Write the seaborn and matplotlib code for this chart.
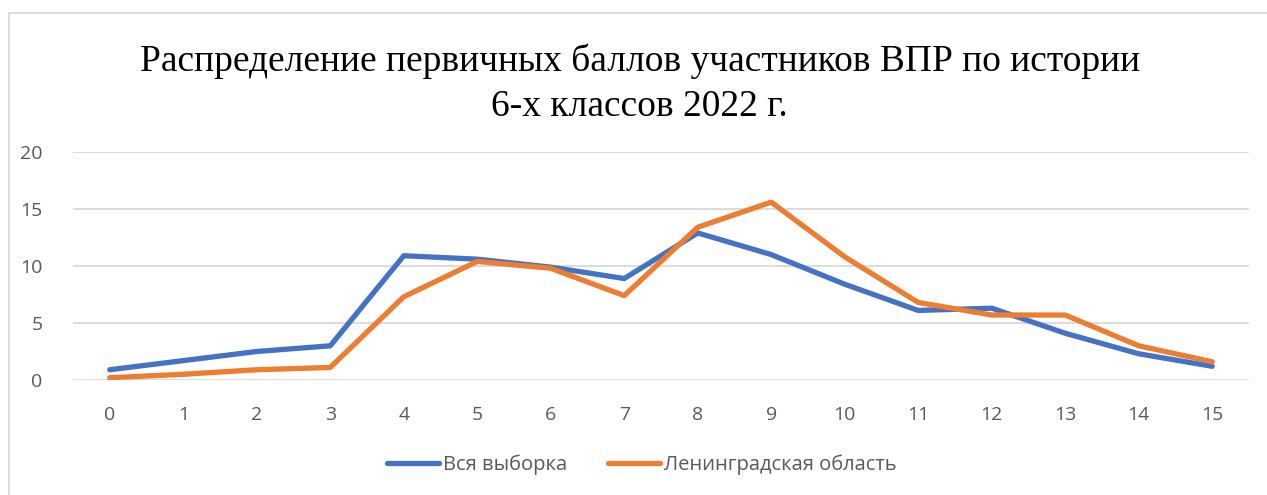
import pandas as pd
import matplotlib
matplotlib.use('Agg')
import matplotlib.pyplot as plt
import seaborn as sns
from matplotlib.patches import Rectangle

# Data
scores = list(range(16))
vsya_vyborka = [0.9, 1.7, 2.5, 3.0, 10.9, 10.6, 9.9, 8.9, 12.9, 11.0, 8.4, 6.1, 6.3, 4.1, 2.3, 1.2]
leningrad = [0.2, 0.5, 0.9, 1.1, 7.3, 10.4, 9.8, 7.4, 13.4, 15.6, 10.8, 6.8, 5.7, 5.7, 3.0, 1.6]
series_names = ['Вся выборка', 'Ленинградская область']
title = 'Распределение первичных баллов участников ВПР по истории\n6-х классов 2022 г.'
yticks = [0, 5, 10, 15, 20]

df = pd.DataFrame({
    'score': scores * 2,
    'value': vsya_vyborka + leningrad,
    'series': [series_names[0]] * len(scores) + [series_names[1]] * len(scores),
})

sns.set_style('white')
plt.rcParams['font.family'] = ['Open Sans', 'DejaVu Sans']

fig = plt.figure(figsize=(12.67, 4.95), dpi=100)
ax = fig.add_axes([73 / 1267, 115 / 495, 1176 / 1267, 228 / 495])

# outer chart border (partly cut off like the reference)
fig.patches.append(Rectangle((9 / 1267, -0.1), 1.2, 1 - 13 / 495 + 0.1,
                             transform=fig.transFigure, fill=False,
                             edgecolor='#D9D9D9', linewidth=1.3))

sns.lineplot(data=df, x='score', y='value', hue='series',
             palette=['#4472C4', '#ED7D31'], linewidth=3.8, ax=ax)

ax.set_xlim(-0.5, 15.5)
ax.set_ylim(0, 20)
ax.set_xticks(scores)
ax.set_yticks(yticks)
ax.yaxis.grid(True, color='#D9D9D9', linewidth=1.3)
ax.xaxis.grid(False)
for s in ax.spines.values():
    s.set_visible(False)
ax.tick_params(axis='both', length=0, labelsize=14, labelcolor='#595959')
ax.tick_params(axis='y', pad=22)
ax.tick_params(axis='x', pad=19)
ax.set_xlabel('')
ax.set_ylabel('')

handles, labels = ax.get_legend_handles_labels()
ax.legend(handles, labels, loc='center', bbox_to_anchor=(642 / 1267, 1 - 465 / 495),
          bbox_transform=fig.transFigure, ncol=2, frameon=False, fontsize=14.5,
          labelcolor='#595959', handlelength=2.6, handletextpad=0.2, columnspacing=2.0)

fig.text(0.505, 1 - 84 / 495, title, ha='center', va='center', fontsize=27,
         family=['Liberation Serif', 'DejaVu Serif'], linespacing=1.38, color='black')

plt.savefig('out.png', dpi=100)
